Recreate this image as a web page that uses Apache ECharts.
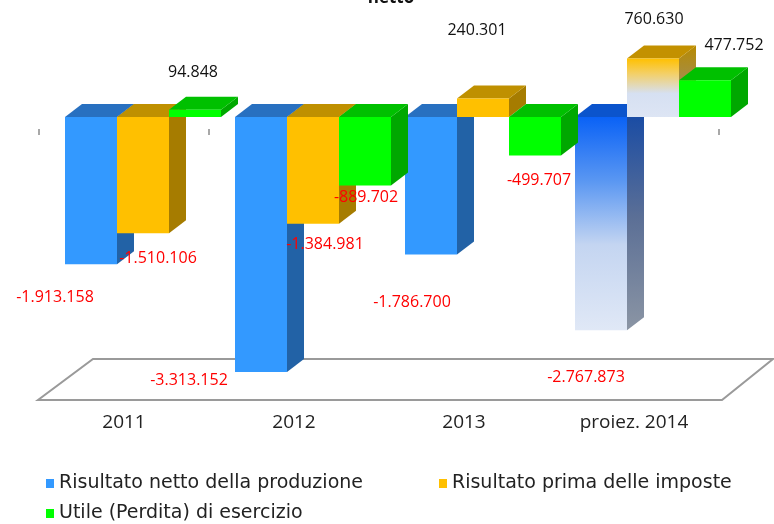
<!DOCTYPE html>
<html>
<head>
<meta charset="utf-8">
<script src="https://cdn.jsdelivr.net/npm/echarts@6/dist/echarts.min.js"></script>
<style>
  html, body { margin: 0; padding: 0; background: #ffffff; }
  #chart { width: 774px; height: 524px; }
</style>
</head>
<body>
<div id="chart"></div>
<script>
// ---- data ----
const categories = ['2011', '2012', '2013', 'proiez. 2014'];
const produzione = [-1913158, -3313152, -1786700, -2767873];
const primaImposte = [-1510106, -1384981, 240301, 760630];
const utile = [94848, -889702, -499707, 477752];
const seriesNames = [
  'Risultato netto della produzione',
  'Risultato prima delle imposte',
  'Utile (Perdita) di esercizio'
];
const seriesValues = [produzione, primaImposte, utile];
const projectedIndex = 3; // the projected year is drawn with faded fills

// ---- layout / styling ----
const FONT = '"Open Sans", "DejaVu Sans", sans-serif';
const LEAD = 26 / 170;     // gap before first bar inside a category band
const FACE_W = 52 / 170;   // front face width relative to band
const DEPTH_X = 17 / 170;  // 3D depth (horizontal) relative to band
const DEPTH_Y = 13;        // 3D depth (vertical) in px

const palette = [
  { front: '#3399ff', side: '#2262a6', top: '#2870c0' },
  { front: '#ffc000', side: '#a67c00', top: '#bf9000' },
  { front: '#00ff00', side: '#00a800', top: '#00c000' }
];
const grad = (stops) => new echarts.graphic.LinearGradient(0, 0, 0, 1,
  stops.map(([offset, color]) => ({ offset, color })));
const projectedPalette = [
  {
    front: grad([[0, '#0a62f6'], [0.3, '#5a97f2'], [0.6, '#c4d5f1'], [1, '#e0e8f6']]),
    side: grad([[0, '#1248a6'], [0.5, '#5b6f96'], [1, '#8b95a4']]),
    top: '#0b54cc'
  },
  {
    front: grad([[0, '#ffc000'], [0.25, '#f4cf63'], [0.6, '#d6e0f2'], [1, '#dde5f4']]),
    side: grad([[0, '#b88a00'], [1, '#8e9196']]),
    top: '#c39100'
  },
  null
];

// label nudges [dx, dy] from the bar end (front face centre)
const labelNudge = [
  [[-36, 33], [-72, 8], [-19, 48], [-15, 47]],
  [[15, 25], [12, 21], [-6, -68], [1, -39]],
  [[-2, -37], [1, 12], [4, 25], [29, -35]]
];

function fmt(v) {
  const s = Math.abs(v).toString().replace(/\B(?=(\d{3})+(?!\d))/g, '.');
  return (v < 0 ? '-' : '') + s;
}

function makeRender(si) {
  return function (params, api) {
    const idx = api.value(0);
    const val = api.value(1);
    const p0 = api.coord([idx, 0]);
    const p1 = api.coord([idx, val]);
    const band = api.size([1, 0])[0];
    const w = band * FACE_W;
    const dx = band * DEPTH_X;
    const dy = DEPTH_Y;
    const x0 = p0[0] - band / 2 + band * LEAD + si * w;
    const yTop = Math.min(p0[1], p1[1]);
    const yBot = Math.max(p0[1], p1[1]);
    const pal = (idx === projectedIndex && projectedPalette[si]) || palette[si];
    const nudge = labelNudge[si][idx];
    return {
      type: 'group',
      children: [
        {
          type: 'polygon',
          shape: { points: [[x0 + w, yTop], [x0 + w + dx, yTop - dy], [x0 + w + dx, yBot - dy], [x0 + w, yBot]] },
          style: { fill: pal.side }
        },
        {
          type: 'polygon',
          shape: { points: [[x0, yTop], [x0 + dx, yTop - dy], [x0 + w + dx, yTop - dy], [x0 + w, yTop]] },
          style: { fill: pal.top }
        },
        {
          type: 'rect',
          shape: { x: x0, y: yTop, width: w, height: yBot - yTop },
          style: { fill: pal.front }
        },
        {
          type: 'text',
          z2: 100,
          x: x0 + w / 2 + nudge[0],
          y: p1[1] + nudge[1],
          style: {
            text: fmt(val),
            fill: val < 0 ? '#ff0000' : '#111111',
            font: '500 16px ' + FONT,
            align: 'center',
            verticalAlign: 'middle'
          }
        }
      ]
    };
  };
}

const chart = echarts.init(document.getElementById('chart'), null, { renderer: 'canvas' });

const series = seriesNames.map((name, si) => ({
  name,
  type: 'custom',
  renderItem: makeRender(si),
  encode: { x: 0, y: 1 },
  itemStyle: { color: palette[si].front },
  data: seriesValues[si].map((v, i) => [i, v]),
  z: 2
}));

const legendText = { fontFamily: '"DejaVu Sans", sans-serif', fontSize: 19, color: '#222' };

chart.setOption({
  animation: false,
  backgroundColor: '#ffffff',
  grid: { left: 39, right: 55, top: 40, bottom: 137.5 },
  legend: [
    {
      data: [seriesNames[0], seriesNames[1]],
      left: 41, top: 469,
      icon: 'rect', itemWidth: 8, itemHeight: 9, itemGap: 76,
      textStyle: legendText
    },
    {
      data: [seriesNames[2]],
      left: 41, top: 499,
      icon: 'rect', itemWidth: 8, itemHeight: 9,
      textStyle: legendText
    }
  ],
  xAxis: [
    {
      type: 'category',
      data: categories,
      position: 'bottom',
      axisLine: { show: false },
      axisTick: { show: false },
      axisLabel: { margin: 27, color: '#222', fontFamily: FONT, fontSize: 19 }
    },
    {
      type: 'category',
      data: categories,
      position: 'top',
      offset: -89,
      axisLine: { show: false },
      axisTick: { show: true, inside: true, length: 6, lineStyle: { color: '#8c8c8c', width: 1.5 } },
      axisLabel: { show: false }
    }
  ],
  yAxis: {
    type: 'value',
    min: -3500000,
    max: 1000000,
    show: false,
    splitLine: { show: false }
  },
  series
});

// floor plate under the bars plus the heading, anchored to the plot area
(function drawDecor() {
  const left = chart.convertToPixel({ xAxisIndex: 0 }, 0) - 85;
  const right = chart.convertToPixel({ xAxisIndex: 0 }, categories.length - 1) + 85;
  const base = chart.convertToPixel({ yAxisIndex: 0 }, -3500000);
  const front = base + 13.5, back = base - 27.5, shift = 54;
  chart.setOption({
    graphic: [
      {
        type: 'text',
        x: 391,
        y: -2,
        z: 10,
        style: {
          text: 'netto',
          font: 'bold 17px ' + FONT,
          fill: '#111',
          align: 'center',
          verticalAlign: 'middle'
        }
      },
      {
        type: 'polygon',
        z: 0,
        shape: { points: [[left - 1, front], [right + 3, front], [right + shift, back], [left + shift, back]] },
        style: { fill: '#ffffff', stroke: '#9a9a9a', lineWidth: 2 }
      }
    ]
  });
})();
</script>
</body>
</html>
